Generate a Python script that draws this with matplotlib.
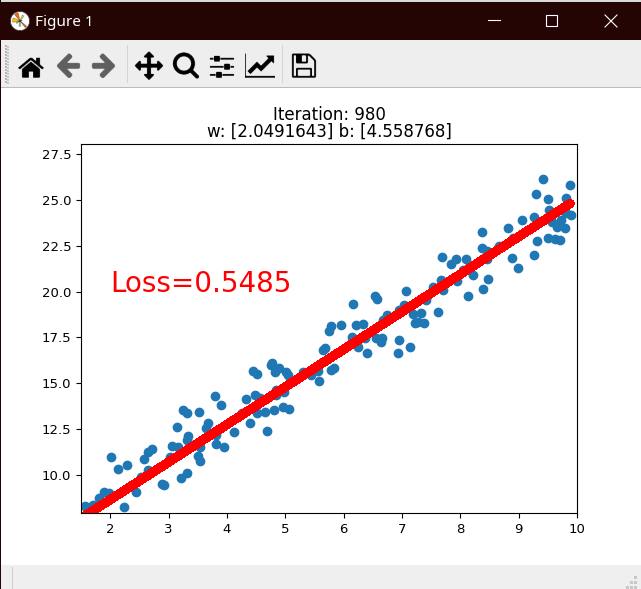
import os
import matplotlib
matplotlib.use('Agg')
import matplotlib.pyplot as plt
from matplotlib.patches import Rectangle

x_data = [1.57, 1.71, 1.81, 1.90, 1.985, 2.24, 2.01, 2.14, 2.29, 2.45, 2.52, 2.64, 2.58, 2.65, 2.71, 2.88, 2.93,
          3.02, 3.06, 3.17, 3.14, 3.21, 3.31, 3.34, 3.31, 3.25, 3.31, 3.53, 3.54, 3.51, 3.54, 3.64, 3.67, 3.82,
          3.82, 3.95, 3.80, 3.90, 4.13, 4.26, 4.33, 4.39, 4.48, 4.51, 4.57, 4.66, 4.80, 4.69, 4.84, 4.85, 4.98,
          4.96, 5.06, 4.45, 4.52, 4.78, 4.76, 4.89, 4.83, 5.02, 5.04,
          9.42, 9.88, 9.30, 9.50, 9.81, 9.52, 9.26, 9.06, 8.82, 8.37, 9.82, 9.90, 9.58, 9.73, 9.66, 9.79, 9.50,
          9.63, 9.71, 9.31, 9.26, 8.89, 8.99, 8.66, 8.90, 8.37, 8.45, 8.46, 7.69, 7.93, 8.10, 7.84, 8.05, 8.22,
          7.95, 7.67, 7.53, 7.71, 8.47, 8.39, 8.13, 7.07, 6.53, 6.57, 6.16, 7.41, 7.03, 6.95, 6.75, 7.19, 7.33,
          7.62, 7.22, 7.28, 7.38, 6.68, 5.96, 5.79, 5.75, 6.21, 6.33, 6.14, 6.37, 6.55, 6.65, 6.64, 6.95, 7.14,
          6.93, 6.25, 6.40, 5.69, 5.65, 5.79, 5.84, 5.56, 5.44, 5.58, 5.30]
y_data = [8.31, 8.36, 8.76, 9.09, 9.00, 8.24, 10.96, 10.31, 10.53, 9.06, 9.91, 10.27, 10.85, 11.27, 11.40, 9.49, 9.44,
          10.96, 11.58, 11.51, 12.60, 9.82, 10.13, 12.15, 11.91, 13.55, 13.36, 13.46, 11.51, 11.04, 10.75, 12.55, 12.82, 12.16,
          11.67, 11.51, 14.31, 13.80, 12.33, 13.40, 14.13, 12.82, 14.36, 13.36, 14.18, 13.46, 13.55, 12.38, 14.36, 14.64, 14.55,
          13.69, 13.62, 15.66, 15.49, 16.09, 15.98, 15.86, 15.62, 15.64, 15.47,
          26.13, 25.80, 25.31, 25.04, 25.09, 24.46, 24.06, 23.89, 23.46, 23.24, 24.28, 24.17, 23.78, 23.91, 23.55, 23.46, 22.91,
          22.89, 22.80, 22.75, 22.02, 21.82, 21.28, 22.51, 22.91, 22.40, 22.22, 21.80, 21.88, 21.80, 21.77, 21.49, 21.19, 20.89,
          20.60, 20.64, 20.28, 20.11, 20.68, 20.13, 19.75, 20.02, 19.77, 19.59, 19.31, 19.55, 19.28, 19.00, 18.71, 18.79, 18.82,
          18.88, 18.28, 18.33, 18.29, 18.46, 18.17, 18.13, 17.84, 18.17, 18.22, 17.55, 17.49, 17.46, 17.46, 17.28, 17.35, 16.97,
          16.64, 17.00, 16.64, 16.93, 16.80, 15.73, 15.82, 15.69, 15.46, 15.11, 15.62]
line_x = [1.5, 9.88]
line_y = [7.63, 24.80]
title = 'Iteration: 980\nw: [2.0491643] b: [4.558768]'
loss = 'Loss=0.5485'

fig = plt.figure(figsize=(6.41, 5.89), dpi=100, facecolor='white')

# window chrome, in pixels
chrome = fig.add_axes([0, 0, 1, 1], zorder=0)
chrome.axis('off')


def box(x, y, w, h, color):
    chrome.add_patch(Rectangle((x, y), w, h, color=color, lw=0))


box(0, 0, 641, 2, '#d9d9d9')
box(0, 2, 641, 38, '#250404')
box(0, 40, 641, 47, '#eeeeee')
box(0, 87, 641, 1, '#bcbcbc')
box(0, 565, 641, 24, '#efefef')
box(0, 0, 1, 589, '#250404')
box(127, 45, 1, 38, '#d4d4d4')
box(282, 45, 1, 38, '#d4d4d4')
box(12, 567, 1, 22, '#d0d0d0')
for gy in range(45, 83, 3):
    box(5, gy, 1.5, 1.5, '#b5b5b5')
    box(7, gy + 1, 1.5, 1.5, '#c8c8c8')
for gx, gy in [(634, 576), (630, 581), (634, 581), (626, 586), (630, 586), (634, 586)]:
    box(gx, gy, 3, 3, '#c8c8c8')

imgdir = os.path.join(matplotlib.get_data_path(), 'images')
icons = [('home_large.png', 31, 1), ('back_large.png', 68, 0.6), ('forward_large.png', 104, 0.6),
         ('move_large.png', 149, 1), ('zoom_to_rect_large.png', 186, 1), ('subplots_large.png', 222, 1),
         ('qt4_editor_options_large.png', 260, 1), ('filesave_large.png', 304, 1)]
for name, cx, alpha in icons:
    img = plt.imread(os.path.join(imgdir, name))
    chrome.imshow(img, extent=(cx - 15, cx + 15, 80, 50), alpha=alpha, aspect='auto', zorder=3)
logo = plt.imread(os.path.join(imgdir, 'matplotlib_large.png'))
chrome.imshow(logo, extent=(10, 30, 31, 11), aspect='auto', zorder=3)

chrome.text(35, 22, 'Figure 1', color='white', fontsize=11, family='Noto Sans', va='center')
chrome.plot([488, 500], [20, 20], color='white', lw=0.8)
chrome.add_patch(Rectangle((546, 15), 11, 11, fill=False, ec='white', lw=0.8))
chrome.plot([605, 617], [15, 27], color='white', lw=0.8)
chrome.plot([605, 617], [27, 15], color='white', lw=0.8)
chrome.set_xlim(0, 641)
chrome.set_ylim(589, 0)

# the plot itself
ax = fig.add_axes([81 / 641, 1 - 513 / 589, 496 / 641, 369 / 589], zorder=1)
ax.scatter(x_data, y_data)
ax.plot(line_x, line_y, color='red', lw=6, solid_capstyle='round', antialiased=False)
ax.text(2, 20, loss, color='red', fontsize=20)
ax.set_title(title, fontsize=12, linespacing=0.95, pad=5)
ax.set_xlim(1.5, 10)
ax.set_ylim(7.93, 28.05)
ax.set_xticks([2, 3, 4, 5, 6, 7, 8, 9, 10])
ax.set_yticks([10, 12.5, 15, 17.5, 20, 22.5, 25, 27.5])
ax.tick_params(labelsize=9.5)

fig.savefig('out.png', dpi=100)
